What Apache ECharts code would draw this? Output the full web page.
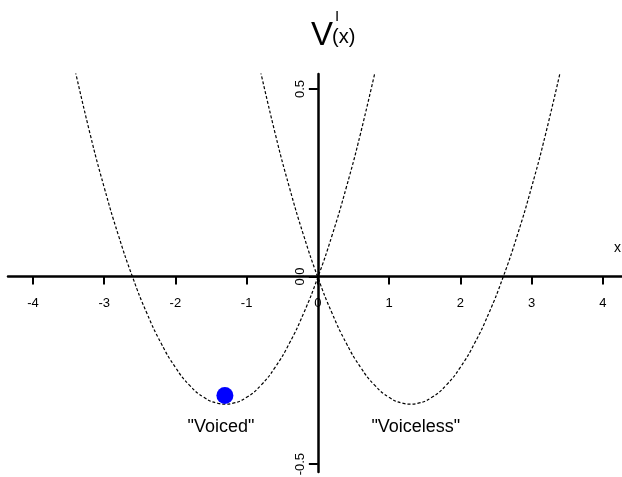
<!DOCTYPE html>
<html>
<head>
<meta charset="utf-8">
<script src="https://cdn.jsdelivr.net/npm/echarts@6/dist/echarts.min.js"></script>
<style>html,body{margin:0;padding:0;background:#fff;}#c{width:622px;height:477px;}</style>
</head>
<body>
<div id="c"></div>
<script>
// Tick values
const xTicks = [-4, -3, -2, -1, 0, 1, 2, 3, 4];
const yTicks = [-0.5, 0, 0.5];
// "Voiced" well (left parabola)
const voicedX = [-3.45, -3.2, -3.0, -2.8, -2.6, -2.4, -2.2, -2.0, -1.8, -1.6, -1.4, -1.3, -1.2, -1.0, -0.8, -0.6, -0.4, -0.2, 0.0, 0.2, 0.4, 0.6, 0.85];
const voicedY = [0.585, 0.382, 0.238, 0.11, -0.002, -0.098, -0.178, -0.242, -0.29, -0.322, -0.338, -0.34, -0.338, -0.322, -0.29, -0.242, -0.178, -0.098, -0.002, 0.11, 0.238, 0.382, 0.585];
// "Voiceless" well (right parabola)
const voicelessX = [-0.85, -0.6, -0.4, -0.2, 0.0, 0.2, 0.4, 0.6, 0.8, 1.0, 1.2, 1.3, 1.4, 1.6, 1.8, 2.0, 2.2, 2.4, 2.6, 2.8, 3.0, 3.2, 3.45];
const voicelessY = [0.585, 0.382, 0.238, 0.11, -0.002, -0.098, -0.178, -0.242, -0.29, -0.322, -0.338, -0.34, -0.338, -0.322, -0.29, -0.242, -0.178, -0.098, -0.002, 0.11, 0.238, 0.382, 0.585];
// Ball position
const ball = [[-1.305, -0.317]];
// Annotations
const labels = [
  { name: '"Voiced"', x: -1.36, y: -0.40 },
  { name: '"Voiceless"', x: 1.375, y: -0.40 }
];

const FONT = '"Liberation Sans", Arial, sans-serif';
const zip = (xs, ys) => xs.map((v, i) => [v, ys[i]]);

const GL = 8, GT = 74, GW = 614, GH = 398;
const XMIN = -4.35, XMAX = 4.27, YMIN = -0.521, YMAX = 0.54;
const x0px = GL + (0 - XMIN) / (XMAX - XMIN) * GW;
const y0px = GT + (YMAX - 0) / (YMAX - YMIN) * GH;

const chart = echarts.init(document.getElementById('c'), null, { renderer: 'canvas' });
chart.setOption({
  animation: false,
  backgroundColor: '#fff',
  grid: { left: GL, top: GT, width: GW, height: GH, containLabel: false, outerBoundsMode: 'none' },
  xAxis: {
    type: 'value', min: XMIN, max: XMAX, position: 'bottom', offset: -(GT + GH - y0px),
    axisLine: { show: true, onZero: false, lineStyle: { color: '#000', width: 2.5 } },
    axisTick: { show: true, length: 8, lineStyle: { color: '#000', width: 2 }, customValues: xTicks },
    axisLabel: { show: true, customValues: xTicks, color: '#000', fontSize: 13, fontFamily: FONT, margin: 20, hideOverlap: false },
    splitLine: { show: false }
  },
  yAxis: {
    type: 'value', min: YMIN, max: YMAX, position: 'left', offset: -(x0px - GL),
    axisLine: { show: true, onZero: false, lineStyle: { color: '#000', width: 2.5 } },
    axisTick: { show: true, length: 9, lineStyle: { color: '#000', width: 2 }, customValues: yTicks },
    axisLabel: { show: true, customValues: yTicks, color: '#000', fontSize: 13, fontFamily: FONT, rotate: 90, margin: 11,
      hideOverlap: false, formatter: v => v.toFixed(1) },
    splitLine: { show: false }
  },
  series: [
    { type: 'line', data: zip(voicedX, voicedY), smooth: true, symbol: 'none', clip: true,
      lineStyle: { color: '#000', width: 1.2, type: [3, 2] } },
    { type: 'line', data: zip(voicelessX, voicelessY), smooth: true, symbol: 'none', clip: true,
      lineStyle: { color: '#000', width: 1.2, type: [3, 2] } },
    { type: 'scatter', data: ball, symbol: 'circle', symbolSize: 17, itemStyle: { color: '#0000ff', opacity: 1 }, z: 5 },
    { type: 'scatter', data: labels.map(l => ({ value: [l.x, l.y], name: l.name })), symbolSize: 0,
      itemStyle: { opacity: 1 },
      label: { show: true, position: 'inside', formatter: p => p.name, color: '#000', opacity: 1, fontSize: 18, fontFamily: FONT } }
  ],
  graphic: [
    { type: 'text', left: 311, top: 19, style: { text: 'V', fontSize: 33, fontFamily: FONT, fill: '#000' } },
    { type: 'text', left: 335, top: 9, style: { text: 'I', fontSize: 15, fontFamily: FONT, fill: '#000' } },
    { type: 'text', left: 332, top: 27, style: { text: '(x)', fontSize: 20, fontFamily: FONT, fill: '#000' } },
    { type: 'text', left: 614, top: 241, style: { text: 'x', fontSize: 14, fontFamily: FONT, fill: '#000' } }
  ]
});
</script>
</body>
</html>
